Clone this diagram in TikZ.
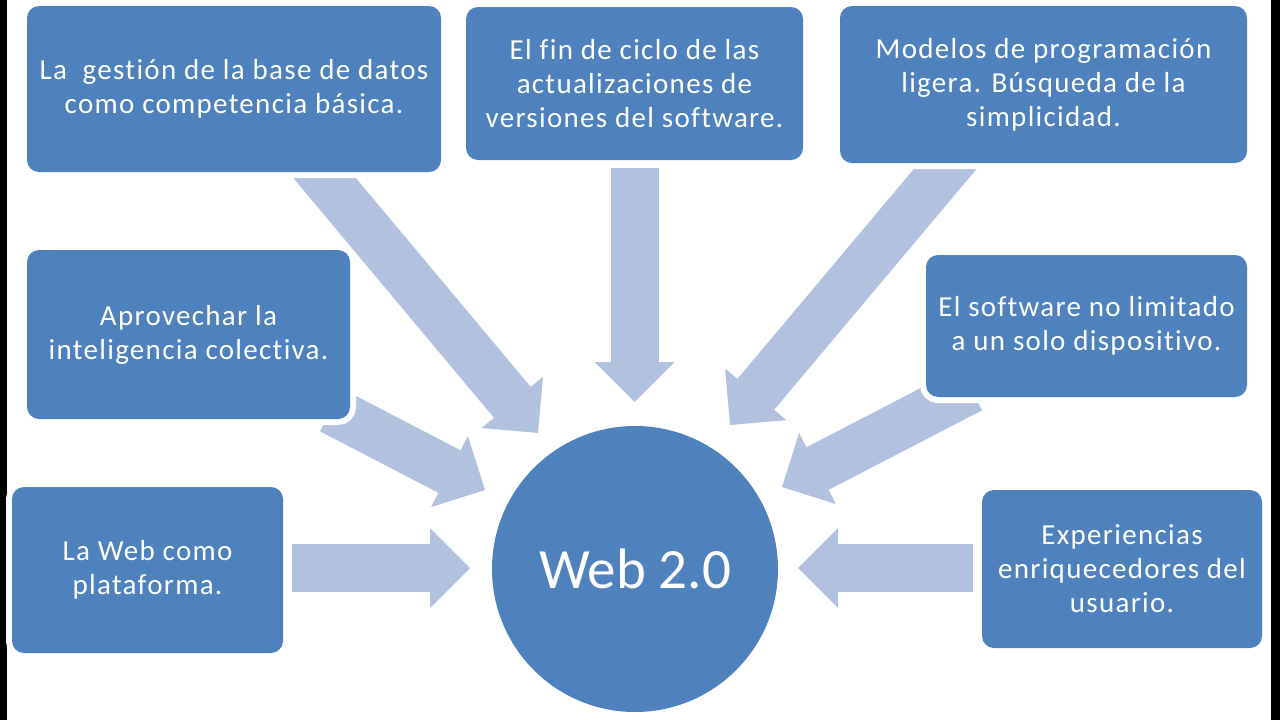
\documentclass[tikz,border=0pt]{standalone}
\usepackage{fontspec}
\setmainfont{Carlito}
\newfontfamily\boxfont[LetterSpace=4.5,Ligatures=NoCommon]{Carlito}
\usetikzlibrary{arrows.meta}
\definecolor{boxblue}{RGB}{79,129,189}
\definecolor{arrowblue}{RGB}{178,194,222}
\tikzset{
  box/.style={rounded corners=12pt, fill=boxblue, preaction={draw=white,line width=12pt},
    text=white, align=center, inner sep=0pt, font=\boxfont\fontsize{29}{34}\selectfont},
  hub/.style={circle, fill=boxblue, preaction={draw=white,line width=8pt}, inner sep=0pt,
    minimum size=286pt, text=white, font=\fontsize{57}{68}\selectfont},
  bigarrow/.style={draw=arrowblue, line width=48pt,
    -{Triangle[length=40pt,width=80pt,line width=0pt]}},
  edgebar/.style={fill=black, draw=none}
}
\begin{document}
\begin{tikzpicture}[x=1pt,y=-1pt]
\useasboundingbox (0,0) rectangle (1280,720);
\fill[white] (0,0) rectangle (1280,720);
\fill[edgebar] (0,0) rectangle (7,720);
\fill[edgebar] (1271,0) rectangle (1280,720);
% arrow end points
\coordinate (s1) at (307,157);   \coordinate (e1) at (538,433);
\coordinate (s2) at (634.5,168); \coordinate (e2) at (634.5,402);
\coordinate (s3) at (962,149);   \coordinate (e3) at (730,425);
\coordinate (s4) at (331,410);   \coordinate (e4) at (485,490);
\coordinate (s5) at (971,389);   \coordinate (e5) at (782,487);
\coordinate (s6) at (292,568);   \coordinate (e6) at (470,568);
\coordinate (s7) at (973,568);   \coordinate (e7) at (798,568);
\draw[bigarrow] (s1) -- (e1);
\draw[bigarrow] (s2) -- (e2);
\draw[bigarrow] (s3) -- (e3);
\draw[bigarrow] (s4) -- (e4);
\draw[bigarrow] (s5) -- (e5);
\draw[bigarrow] (s6) -- (e6);
\draw[bigarrow] (s7) -- (e7);
% boxes
\node[box, minimum width=414pt, minimum height=166pt] (b1) at (234,89)
  {La \ gestión de la base de datos\\como competencia básica.};
\node[box, minimum width=337pt, minimum height=153pt] (b2) at (634.5,83.5)
  {El fin de ciclo de las\\actualizaciones de\\versiones del software.};
\node[box, minimum width=407pt, minimum height=157pt] (b3) at (1043.5,84.5)
  {Modelos de programación\\ligera. Búsqueda de la\\simplicidad.};
\node[box, minimum width=323pt, minimum height=169pt] (b4) at (188.5,334.5)
  {Aprovechar la\\inteligencia colectiva.};
\node[box, minimum width=321pt, minimum height=142pt] (b5) at (1086.5,326)
  {El software no limitado\\a un solo dispositivo.};
\node[box, minimum width=271pt, minimum height=166pt] (b6) at (147.5,570)
  {La Web como\\plataforma.};
\node[box, minimum width=280pt, minimum height=158pt] (b7) at (1122,569)
  {Experiencias\\enriquecedores del\\usuario.};
\node[hub] (c) at (635,569) {Web 2.0};
\end{tikzpicture}
\end{document}
